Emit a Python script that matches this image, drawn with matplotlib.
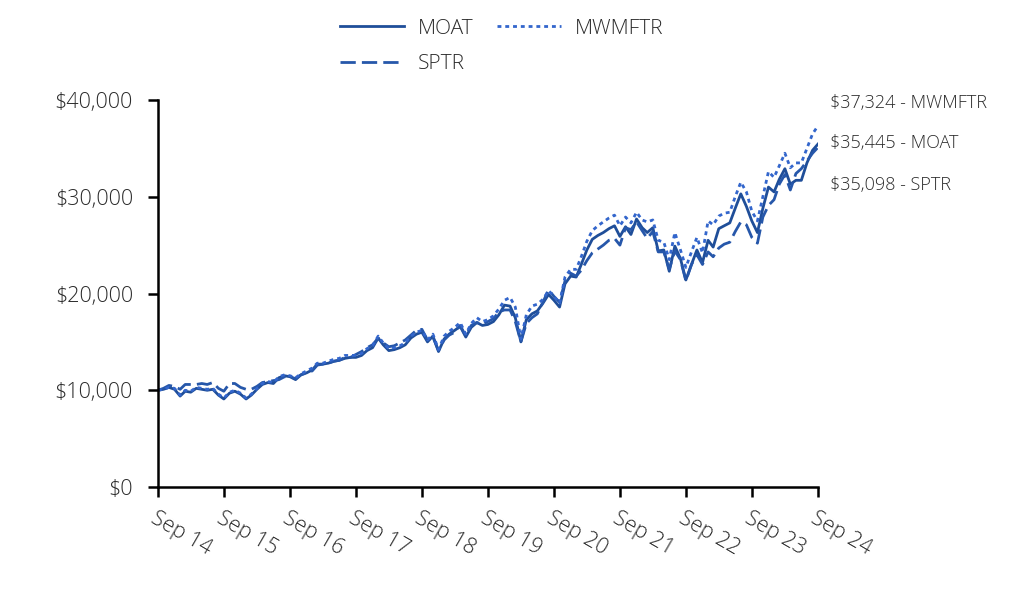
import numpy as np
import pandas as pd
import matplotlib.pyplot as plt
import matplotlib.transforms as mtransforms
from matplotlib.ticker import FuncFormatter

plt.rcParams['font.family'] = ['Open Sans', 'DejaVu Sans']
plt.rcParams['font.weight'] = 'light'

dates = pd.date_range('2014-09-30', '2024-09-30', freq='ME')

moat = [10000, 10100, 10300, 10100, 9400, 9900, 9800, 10200, 10100, 10000, 10100, 9500,
        9100, 9700, 9900, 9600, 9100, 9500, 10100, 10600, 10800, 10700, 11300, 11500,
        11400, 11100, 11600, 11800, 12100, 12700, 12700, 12800, 13000, 13100, 13300, 13400,
        13400, 13600, 14100, 14400, 15400, 14700, 14100, 14200, 14400, 14700, 15400, 15800,
        16000, 15000, 15600, 14000, 15300, 15800, 16200, 16600, 15500, 16500, 17000, 16700,
        16800, 17100, 17800, 18800, 18700, 17500, 15000, 17300, 17900, 18200, 19000, 19900,
        19300, 18600, 21000, 21800, 21700, 23000, 24500, 25600, 26000, 26300, 26700, 27000,
        25900, 26900, 26100, 27700, 26800, 26300, 26800, 24400, 24500, 22300, 24900, 23600,
        21400, 23000, 24500, 23200, 25500, 24800, 26700, 27000, 27300, 28800, 30300, 29000,
        27500, 26300, 28800, 31000, 30500, 31800, 32900, 31300, 31700, 31700, 33500, 34800,
        35445]

sptr = [10000, 10200, 10500, 10400, 10100, 10600, 10600, 10600, 10700, 10600, 10800, 10200,
        9900, 10700, 10700, 10300, 10100, 10100, 10400, 10800, 10900, 11000, 11100, 11400,
        11400, 11200, 11600, 11800, 12000, 12600, 12700, 12800, 13000, 13100, 13400, 13400,
        13700, 14000, 14400, 14700, 15400, 14900, 14500, 14600, 14900, 15200, 15700, 16200,
        16300, 15200, 15500, 14100, 15200, 15700, 16000, 16700, 15600, 16700, 17000, 16800,
        17100, 17400, 18100, 18300, 18300, 17100, 15000, 16900, 17500, 17900, 19100, 20400,
        19700, 19100, 21300, 22100, 21800, 22400, 23400, 24200, 24600, 25000, 25500, 25700,
        25000, 26800, 26600, 27400, 26500, 25700, 26400, 24300, 24300, 22500, 24400, 23500,
        21300, 23000, 24000, 23000, 24300, 23800, 24700, 25100, 25300, 26400, 27400, 27100,
        25800, 25200, 27900, 29100, 29700, 31300, 32300, 30700, 32400, 32900, 33700, 34500,
        35098]

mwmftr = [10000, 10100, 10300, 10200, 9500, 10000, 9900, 10300, 10200, 10100, 10200, 9600,
          9200, 9800, 10000, 9700, 9200, 9600, 10200, 10700, 10900, 10800, 11400, 11600,
          11500, 11300, 11700, 12000, 12300, 12800, 12800, 13000, 13200, 13300, 13600, 13600,
          13600, 13800, 14300, 14600, 15600, 14900, 14300, 14400, 14600, 14900, 15600, 16000,
          16200, 15200, 15800, 14200, 15600, 16100, 16500, 17000, 15800, 16900, 17500, 17100,
          17300, 17700, 18400, 19300, 19600, 18600, 15300, 17800, 18700, 18900, 19400, 20300,
          19700, 19000, 21700, 22500, 22500, 23800, 25400, 26500, 27000, 27400, 27800, 28100,
          27000, 27900, 27300, 28400, 27600, 27400, 27600, 25500, 25300, 23500, 26300, 24500,
          22700, 24300, 25800, 24200, 27500, 27100, 28000, 28300, 28400, 30000, 31500, 30500,
          28500, 27500, 30000, 32600, 32000, 33200, 34500, 33000, 33500, 33500, 35000, 36500,
          37324]

tick_years = list(range(2014, 2025))

fig = plt.figure(figsize=(10.32, 6.12), dpi=100)
ax = fig.add_axes([0.153, 0.2042, 0.6396, 0.6324])

ax.plot(dates, moat, color='#1F4E99', lw=2, label='MOAT')
ax.plot(dates, sptr, color='#2657AA', lw=2, dashes=(5.5, 2.2), label='SPTR')
ax.plot(dates, mwmftr, color='#3366CC', lw=2, dashes=(1.4, 1.4), label='MWMFTR')

ax.set_xlim(dates[0], dates[-1])
ax.set_ylim(0, 40000)
ax.set_yticks([0, 10000, 20000, 30000, 40000])
ax.yaxis.set_major_formatter(FuncFormatter(lambda v, p: f'${v:,.0f}'))
ax.set_xticks([pd.Timestamp(f'{y}-09-30') for y in tick_years])
ax.set_xticklabels([f'Sep {y % 100:02d}' for y in tick_years], rotation=-30,
                   ha='left', va='top', rotation_mode='anchor')
shift = mtransforms.ScaledTranslation(9 / 100, 2 / 100, fig.dpi_scale_trans)
for lab in ax.get_xticklabels():
    lab.set_transform(lab.get_transform() + shift)

for s in ['top', 'right']:
    ax.spines[s].set_visible(False)
for s in ['left', 'bottom']:
    ax.spines[s].set_linewidth(1.8)
ax.tick_params(axis='both', length=7, width=1.8, colors='black', labelcolor='#2b2b2b')
ax.tick_params(axis='y', labelsize=15.5, pad=11)
ax.tick_params(axis='x', labelsize=15.5, pad=8)

labels = [f'${mwmftr[-1]:,} - MWMFTR', f'${moat[-1]:,} - MOAT', f'${sptr[-1]:,} - SPTR']
for txt, yf in zip(labels, [0.992, 0.889, 0.780]):
    ax.text(1.018, yf, txt, transform=ax.transAxes, fontsize=13, color='#2b2b2b', va='center')

leg = fig.legend(loc='upper center', bbox_to_anchor=(0.486, 1.0), ncol=2, frameon=False,
                 fontsize=15, handlelength=3.1, columnspacing=1.1, labelspacing=0.75,
                 handletextpad=0.65)
for t in leg.get_texts():
    t.set_color('#2b2b2b')

plt.savefig('out.png', dpi=100)
